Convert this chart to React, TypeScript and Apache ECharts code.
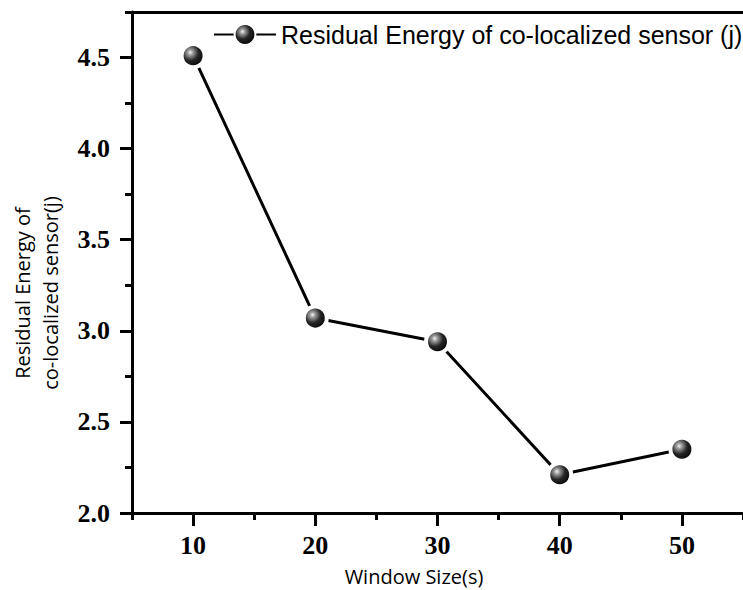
import React, { useEffect, useRef } from "react";
import * as echarts from "echarts";

// Window sizes (s) on the x axis and residual energy (j) of the co-localized sensor
const windowSizes = [10, 20, 30, 40, 50];
const residualEnergy = [4.51, 3.07, 2.94, 2.21, 2.35];

// Major tick positions (labelled)
const xMajorTicks = [10, 20, 30, 40, 50];
const yMajorTicks = [2.0, 2.5, 3.0, 3.5, 4.0, 4.5];

const seriesName = "Residual Energy of co-localized sensor (j)";
const xTitle = "Window Size(s)";
const yTitle = "Residual Energy of\nco-localized sensor(j)";

const X_MIN = 5;
const X_MAX = 55;
const Y_MIN = 2;
const Y_MAX = 4.75;

const tickFont = {
  color: "#000",
  fontFamily: "Liberation Serif",
  fontWeight: "bold" as const,
  fontSize: 26,
};

export default function App() {
  const ref = useRef<HTMLDivElement>(null);

  useEffect(() => {
    if (!ref.current) return;
    const chart = echarts.init(ref.current, null, { renderer: "svg" });

    const ball = new echarts.graphic.RadialGradient(0.38, 0.36, 0.7, [
      { offset: 0, color: "#f4f4f4" },
      { offset: 0.16, color: "#a0a0a0" },
      { offset: 0.5, color: "#262626" },
      { offset: 1, color: "#000000" },
    ]);

    const points = windowSizes.map((x, i) => [x, residualEnergy[i]]);

    chart.setOption({
      animation: false,
      backgroundColor: "#fff",
      grid: { left: 132, right: -5, top: 12, bottom: 77 },
      legend: {
        left: 213,
        top: 22,
        padding: 0,
        itemWidth: 62,
        itemHeight: 26,
        itemGap: 0,
        textStyle: {
          color: "#000",
          fontFamily: "Liberation Sans",
          fontSize: 25,
        },
        data: [seriesName],
      },
      xAxis: [
        {
          type: "value",
          position: "bottom",
          min: X_MIN,
          max: X_MAX,
          interval: 5,
          axisLine: { lineStyle: { color: "#000", width: 3 } },
          axisTick: { length: 7, lineStyle: { color: "#000", width: 3 } },
          axisLabel: { ...tickFont, margin: 19, customValues: xMajorTicks },
          splitLine: { show: false },
        },
        {
          type: "value",
          position: "bottom",
          min: X_MIN,
          max: X_MAX,
          axisLine: { show: false },
          axisTick: {
            length: 13,
            customValues: xMajorTicks,
            lineStyle: { color: "#000", width: 3 },
          },
          axisLabel: { show: false },
          splitLine: { show: false },
        },
        {
          type: "value",
          position: "top",
          min: X_MIN,
          max: X_MAX,
          axisLine: { lineStyle: { color: "#000", width: 3 } },
          axisTick: { show: false },
          axisLabel: { show: false },
          splitLine: { show: false },
        },
      ],
      yAxis: [
        {
          type: "value",
          position: "left",
          min: Y_MIN,
          max: Y_MAX,
          interval: 0.25,
          axisLine: { show: true, lineStyle: { color: "#000", width: 3 } },
          axisTick: { length: 7, lineStyle: { color: "#000", width: 3 } },
          axisLabel: {
            ...tickFont,
            margin: 22,
            customValues: yMajorTicks,
            formatter: (v: number) => v.toFixed(1),
          },
          splitLine: { show: false },
        },
        {
          type: "value",
          position: "left",
          min: Y_MIN,
          max: Y_MAX,
          axisLine: { show: false },
          axisTick: {
            length: 12,
            customValues: yMajorTicks,
            lineStyle: { color: "#000", width: 3 },
          },
          axisLabel: { show: false },
          splitLine: { show: false },
        },
      ],
      graphic: [
        {
          type: "text",
          x: 414,
          y: 576,
          style: {
            text: xTitle,
            fill: "#000",
            font: "20px 'Open Sans'",
            textAlign: "center",
            textVerticalAlign: "middle",
          },
        },
        {
          type: "text",
          x: 36,
          y: 293,
          rotation: Math.PI / 2,
          style: {
            text: yTitle,
            fill: "#000",
            font: "20px 'Open Sans'",
            lineHeight: 28,
            textAlign: "center",
            textVerticalAlign: "middle",
          },
        },
      ],
      series: [
        {
          name: seriesName,
          type: "line",
          xAxisIndex: 0,
          yAxisIndex: 0,
          data: points,
          symbol: "circle",
          symbolSize: 23,
          lineStyle: { color: "#000", width: 3 },
          itemStyle: { color: ball, borderColor: "#fff", borderWidth: 4 },
          z: 3,
        },
      ],
    });

    return () => chart.dispose();
  }, []);

  return (
    <div
      ref={ref}
      style={{ position: "absolute", left: 0, top: 0, width: 743, height: 590 }}
    />
  );
}
